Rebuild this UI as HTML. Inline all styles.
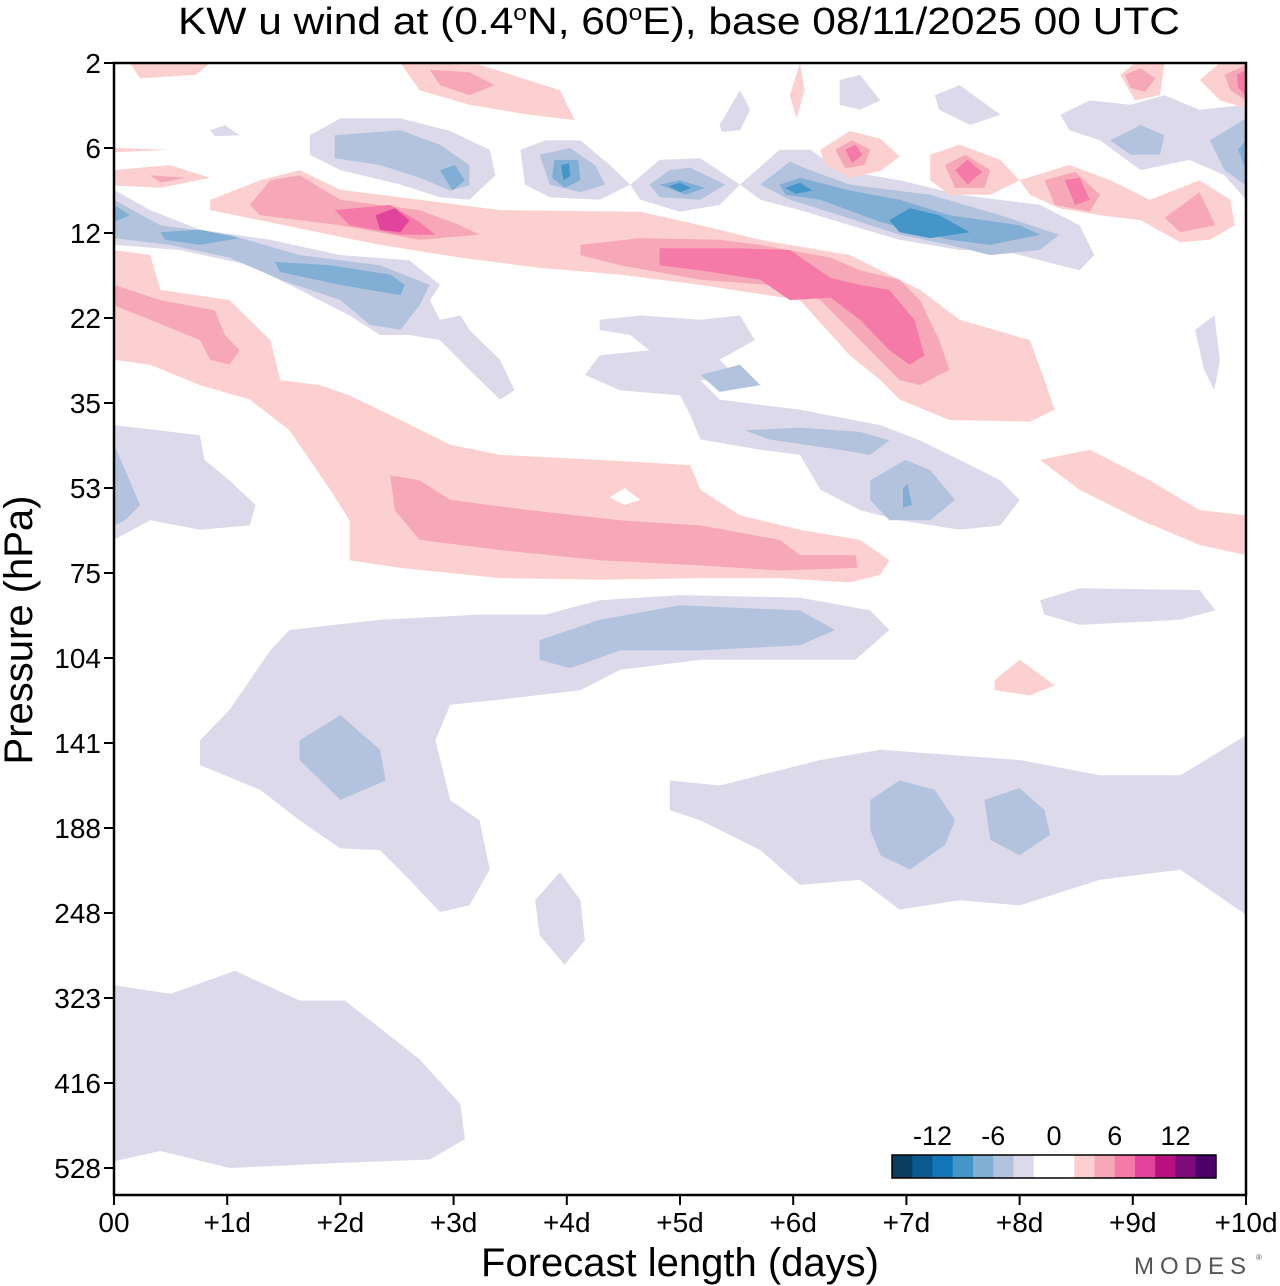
<!DOCTYPE html>
<html><head><meta charset="utf-8">
<style>
html,body{margin:0;padding:0;background:#fff;}
svg{display:block;font-family:"Liberation Sans",sans-serif;}
</style></head>
<body>
<svg id="chart" width="1280" height="1286" viewBox="0 0 1280 1286" xmlns="http://www.w3.org/2000/svg">
<text x="679" y="34" font-size="38" text-anchor="middle" textLength="1002" lengthAdjust="spacingAndGlyphs">KW u wind at (0.4<tspan font-size="22" dy="-14">o</tspan><tspan dy="14">N, 60</tspan><tspan font-size="22" dy="-14">o</tspan><tspan dy="14">E),  base 08/11/2025  00 UTC</tspan></text>
<g id="contours"></g>
<g id="axes"></g>
<text x="680" y="1276" font-size="40" text-anchor="middle">Forecast length (days)</text>
<text x="0" y="0" font-size="40" text-anchor="middle" transform="translate(32,630) rotate(-90)">Pressure (hPa)</text>
<text x="1134" y="1274" font-size="24" fill="#555" letter-spacing="6">MODES</text>
<text x="1256" y="1260" font-size="8" fill="#555">®</text>
<g id="cbar"></g>
</svg>
<script>
// ---- data ----
const dayTicks = [0,1,2,3,4,5,6,7,8,9,10];
const dayLabels = ["00","+1d","+2d","+3d","+4d","+5d","+6d","+7d","+8d","+9d","+10d"];
const pressureLabels = ["2","6","12","22","35","53","75","104","141","188","248","323","416","528"];
const cbarColors = ["#0b3d5e","#0a5a90","#1076b8","#4496c8","#80aed4","#b3c3de","#dcdaea","#ffffff","#ffffff","#fcd0d0","#f7a8b8","#f57aa8","#e0459b","#b8107f","#7e0b7b","#4a0068"];
const cbarLabels = ["-12","-6","0","6","12"];
const cbarLabelValues = [-12,-6,0,6,12];
// polygons [day, pressure-level index] grouped by band
const lavPolys = [
 [[0,10.85],[0.5,10.95],[1.07,10.68],[1.64,11.03],[2.04,11.03],[2.7,11.72],[3.06,12.25],[3.1,12.66],[2.79,12.9],[2,12.94],[1.02,13.0],[0.41,12.8],[0,12.92]],
 [[0.76,7.97],[1.02,7.61],[1.38,6.91],[1.55,6.67],[2.35,6.55],[3.23,6.49],[3.81,6.49],[4.29,6.32],[5.0,6.26],[6.06,6.29],[6.68,6.44],[6.85,6.67],[6.55,7.02],[5.88,7.02],[5.18,7.02],[4.47,7.14],[4.12,7.38],[3.41,7.49],[2.97,7.55],[2.84,7.97],[2.97,8.67],[3.23,8.91],[3.32,9.49],[3.14,9.91],[2.88,9.99],[2.61,9.61],[2.35,9.26],[2,9.24],[1.64,8.91],[1.29,8.55],[0.76,8.26]],
 [[3.72,9.85],[3.94,9.52],[4.12,9.85],[4.16,10.32],[3.98,10.61],[3.76,10.26]],
 [[4.91,8.44],[5.35,8.5],[6.24,8.2],[6.77,8.08],[7.38,8.14],[8.0,8.2],[8.71,8.38],[9.42,8.38],[10,7.91],[10,10.02],[9.42,9.49],[8.71,9.61],[8.0,9.91],[7.47,9.85],[6.94,9.96],[6.59,9.61],[6.06,9.67],[5.71,9.26],[5.18,8.91],[4.91,8.79]],
 [[8.18,6.32],[8.53,6.18],[9.59,6.2],[9.73,6.44],[9.42,6.55],[8.53,6.61],[8.22,6.49]],
 [[0,4.26],[0.76,4.38],[0.8,4.67],[1.02,4.91],[1.25,5.2],[1.2,5.44],[0.76,5.49],[0.32,5.38],[0,5.61]],
 [[0,1.49],[0.32,1.73],[0.76,1.96],[1.38,2.08],[2,2.26],[2.61,2.32],[2.88,2.61],[2.79,2.79],[2.88,3.02],[3.06,2.97],[3.14,3.14],[3.41,3.49],[3.54,3.85],[3.41,3.96],[3.14,3.61],[2.88,3.26],[2.61,3.2],[2.35,3.2],[2.08,2.97],[1.64,2.67],[1.2,2.38],[0.58,2.2],[0,2.14]],
 [[1.73,0.85],[2,0.65],[2.53,0.65],[2.97,0.8],[3.32,1.02],[3.37,1.32],[3.14,1.61],[2.88,1.58],[2.53,1.43],[2,1.26],[1.73,1.08]],
 [[3.59,1.02],[3.81,0.91],[4.12,0.91],[4.38,1.2],[4.56,1.43],[4.29,1.61],[3.85,1.58],[3.63,1.43]],
 [[4.56,1.43],[4.82,1.14],[5.18,1.12],[5.53,1.43],[5.35,1.67],[5.0,1.75],[4.65,1.61]],
 [[5.53,1.43],[5.88,1.02],[6.15,1.02],[6.41,1.26],[6.94,1.38],[7.47,1.55],[8.18,1.67],[8.53,1.91],[8.66,2.26],[8.53,2.44],[8.18,2.32],[7.83,2.2],[7.47,2.2],[6.94,2.08],[6.5,1.91],[6.06,1.73],[5.71,1.61]],
 [[8.36,0.61],[8.62,0.44],[8.98,0.49],[9.28,0.38],[9.59,0.55],[10,0.49],[10,1.61],[9.81,1.32],[9.5,1.14],[9.07,1.26],[8.71,0.91],[8.44,0.79]],
 [[6.41,0.2],[6.59,0.14],[6.77,0.44],[6.59,0.55],[6.41,0.49]],
 [[7.25,0.38],[7.47,0.26],[7.83,0.61],[7.56,0.73],[7.29,0.55]],
 [[5.35,0.73],[5.53,0.32],[5.62,0.55],[5.53,0.79],[5.37,0.81]],
 [[4.29,3.02],[4.65,2.97],[5.18,3.02],[5.53,2.97],[5.66,3.26],[5.35,3.49],[5.53,3.73],[5.18,3.73],[5.35,3.96],[6.06,4.08],[6.77,4.26],[7.12,4.44],[7.47,4.67],[7.83,4.91],[8.0,5.14],[7.83,5.44],[7.47,5.49],[6.94,5.38],[6.59,5.26],[6.24,5.02],[6.06,4.61],[5.71,4.55],[5.18,4.43],[5.09,4.14],[5.0,3.91],[4.47,3.85],[4.16,3.67],[4.29,3.44],[4.73,3.38],[4.56,3.2],[4.29,3.14]],
 [[9.55,3.14],[9.72,2.97],[9.77,3.49],[9.72,3.85],[9.63,3.61]],
 [[0.85,0.79],[0.98,0.73],[1.11,0.85],[0.89,0.86]]
];
const pink2Polys = [
 [[7.78,7.26],[8.0,7.02],[8.31,7.32],[8.09,7.44],[7.78,7.38]],
 [[8.18,4.67],[8.62,4.55],[9.15,4.91],[9.59,5.26],[10,5.32],[10,5.79],[9.59,5.67],[9.07,5.38],[8.53,5.02]],
 [[0,2.2],[0.32,2.26],[0.41,2.67],[1.02,2.79],[1.38,3.26],[1.47,3.73],[1.82,3.79],[2.08,3.91],[2.53,4.2],[2.97,4.49],[3.41,4.61],[4.29,4.67],[5.09,4.73],[5.18,5.02],[5.53,5.32],[6.06,5.49],[6.59,5.61],[6.85,5.85],[6.77,6.02],[6.5,6.11],[5.88,6.06],[5.18,6.06],[4.29,6.08],[3.41,6.06],[2.53,5.94],[2.08,5.85],[2.08,5.38],[1.91,5.02],[1.55,4.32],[1.2,3.96],[0.76,3.79],[0.32,3.55],[0,3.49]],
 [[0.85,1.61],[1.29,1.38],[1.64,1.26],[2,1.49],[2.7,1.61],[3.41,1.73],[4.65,1.75],[5.18,1.91],[5.71,2.08],[6.5,2.26],[7.12,2.67],[7.47,3.02],[8.09,3.26],[8.22,3.73],[8.31,4.08],[8.09,4.22],[7.38,4.2],[6.94,3.96],[6.77,3.73],[6.5,3.44],[6.06,2.79],[5.18,2.61],[4.47,2.49],[3.76,2.41],[3.06,2.29],[2.35,2.14],[1.91,2.02],[1.29,1.85],[0.85,1.73]],
 [[6.24,1.02],[6.5,0.8],[6.77,0.89],[6.94,1.1],[6.77,1.27],[6.5,1.35],[6.28,1.2]],
 [[7.21,1.08],[7.47,0.96],[7.83,1.14],[8.0,1.38],[7.74,1.55],[7.38,1.55],[7.21,1.38]],
 [[8.0,1.38],[8.44,1.2],[8.8,1.38],[9.15,1.61],[9.59,1.38],[9.86,1.61],[9.9,1.91],[9.68,2.08],[9.42,2.11],[9.07,1.85],[8.71,1.79],[8.35,1.71],[8.09,1.55]],
 [[8.89,0.14],[9.02,0],[9.28,0],[9.24,0.38],[9.02,0.44]],
 [[9.59,0.2],[9.77,0],[10,0],[10,0.53],[9.77,0.44]],
 [[0.14,0],[0.85,0],[0.72,0.14],[0.23,0.18]],
 [[2.53,0],[3.23,0.02],[3.94,0.32],[4.07,0.67],[3.67,0.61],[3.14,0.49],[2.7,0.32]],
 [[0,1.26],[0.49,1.2],[0.85,1.35],[0.41,1.47],[0,1.44]],
 [[5.97,0.38],[6.06,0],[6.1,0.32],[6.03,0.65]],
 [[0,1.0],[0.49,1.02],[0,1.05]]
];
const holePolys = [
 [[4.38,5.11],[4.51,5.0],[4.65,5.14],[4.51,5.2]]
];
const blue4Polys = [
 [[1.64,7.97],[2,7.67],[2.35,8.08],[2.4,8.44],[2,8.67],[1.64,8.2]],
 [[3.76,6.79],[4.29,6.55],[5.0,6.38],[6.06,6.44],[6.37,6.67],[6.06,6.85],[5.18,6.91],[4.47,6.91],[4.03,7.12],[3.76,7.02]],
 [[6.68,8.67],[6.94,8.44],[7.25,8.55],[7.43,8.91],[7.34,9.2],[7.03,9.49],[6.77,9.32],[6.68,9.02]],
 [[7.69,8.67],[8.0,8.53],[8.22,8.79],[8.27,9.08],[8.0,9.32],[7.74,9.14]],
 [[0,4.49],[0.1,4.79],[0.23,5.2],[0.1,5.38],[0,5.44]],
 [[0,1.61],[0.41,1.91],[1.02,2.02],[1.64,2.26],[2.35,2.38],[2.79,2.61],[2.7,2.85],[2.53,3.14],[2.26,3.08],[2,2.79],[1.47,2.55],[1.02,2.29],[0.49,2.14],[0,2.06]],
 [[1.95,0.85],[2.53,0.79],[2.88,0.96],[3.14,1.2],[3.14,1.44],[2.97,1.5],[2.7,1.35],[2.35,1.2],[1.95,1.12]],
 [[3.76,1.08],[4.03,1.0],[4.25,1.2],[4.34,1.43],[4.12,1.52],[3.85,1.43]],
 [[4.73,1.43],[4.91,1.26],[5.09,1.23],[5.4,1.43],[5.18,1.61],[4.82,1.58]],
 [[5.71,1.43],[5.97,1.16],[6.15,1.26],[6.5,1.43],[7.21,1.55],[7.83,1.79],[8.35,2.02],[8.18,2.2],[7.74,2.26],[7.38,2.14],[6.94,2.02],[6.41,1.79],[5.97,1.61]],
 [[8.8,0.91],[9.07,0.73],[9.28,0.85],[9.24,1.08],[8.98,1.08]],
 [[9.68,0.91],[10,0.65],[10,1.44],[9.81,1.26]],
 [[5.18,3.67],[5.53,3.55],[5.71,3.79],[5.35,3.87]],
 [[5.57,4.32],[6.06,4.29],[6.59,4.34],[6.85,4.44],[6.68,4.61],[6.41,4.55],[5.79,4.43]],
 [[6.68,4.91],[6.99,4.67],[7.21,4.79],[7.43,5.14],[7.21,5.38],[6.85,5.38],[6.68,5.14]]
];
const blue6Polys = [
 [[0,1.67],[0.14,1.79],[0,1.87]],
 [[0.41,1.99],[0.76,1.96],[1.11,2.06],[0.76,2.14],[0.45,2.08]],
 [[1.42,2.34],[1.91,2.38],[2.44,2.49],[2.57,2.61],[2.53,2.73],[2,2.61],[1.47,2.46]],
 [[2.88,1.26],[3.01,1.2],[3.1,1.38],[2.99,1.5]],
 [[3.89,1.14],[4.1,1.14],[4.12,1.38],[3.98,1.47],[3.87,1.35]],
 [[4.82,1.43],[5.0,1.38],[5.22,1.47],[5.05,1.55]],
 [[5.88,1.43],[6.06,1.35],[6.5,1.5],[6.94,1.61],[7.38,1.79],[8.0,1.91],[8.18,2.02],[7.74,2.14],[7.38,2.08],[6.77,1.87],[6.24,1.61],[5.93,1.55]],
 [[9.93,1.02],[10,0.91],[10,1.26]],
 [[6.97,5.0],[7.01,4.95],[7.05,5.2],[6.97,5.23]]
];
const blue8Polys = [
 [[6.85,1.85],[7.03,1.71],[7.29,1.79],[7.56,1.99],[7.21,2.06],[6.94,1.99]],
 [[5.93,1.47],[6.06,1.41],[6.17,1.5],[6.02,1.54]],
 [[4.9,1.45],[5.0,1.41],[5.1,1.47],[5.0,1.52]],
 [[3.95,1.2],[4.02,1.18],[4.03,1.33],[3.97,1.38]]
];
const pink4Polys = [
 [[2.44,4.85],[2.7,4.91],[2.97,5.14],[3.67,5.26],[4.47,5.38],[5.18,5.44],[5.88,5.61],[6.06,5.79],[6.55,5.79],[6.57,5.94],[5.88,5.97],[5.18,5.91],[4.29,5.85],[3.41,5.73],[2.7,5.61],[2.48,5.26]],
 [[0,2.61],[0.41,2.79],[0.89,2.91],[0.98,3.2],[1.11,3.38],[1.02,3.55],[0.85,3.49],[0.76,3.26],[0.32,3.02],[0,2.85]],
 [[1.2,1.67],[1.38,1.38],[1.64,1.32],[2,1.61],[2.7,1.73],[3.06,1.91],[3.23,2.02],[2.7,2.08],[2,1.91],[1.29,1.79]],
 [[4.12,2.14],[4.65,2.06],[5.35,2.08],[5.71,2.14],[6.33,2.29],[6.59,2.44],[6.94,2.55],[7.12,2.79],[7.29,3.26],[7.38,3.61],[7.12,3.79],[6.94,3.73],[6.59,3.26],[6.24,2.79],[5.79,2.61],[5.18,2.55],[4.47,2.38],[4.12,2.26]],
 [[6.37,1.02],[6.52,0.91],[6.68,1.02],[6.63,1.2],[6.46,1.24]],
 [[7.34,1.2],[7.52,1.08],[7.74,1.26],[7.69,1.47],[7.43,1.47]],
 [[8.22,1.38],[8.49,1.28],[8.71,1.55],[8.62,1.75],[8.31,1.67]],
 [[9.28,1.82],[9.59,1.52],[9.73,1.91],[9.42,1.99]],
 [[8.93,0.14],[9.07,0.06],[9.2,0.18],[9.11,0.34],[8.98,0.29]],
 [[9.81,0.14],[10,0.02],[10,0.44],[9.86,0.32]],
 [[2.79,0.08],[3.14,0.11],[3.36,0.26],[3.14,0.38],[2.88,0.26]],
 [[0.32,1.32],[0.63,1.35],[0.41,1.41]]
];
const pink6Polys = [
 [[1.95,1.73],[2.44,1.67],[2.7,1.87],[2.84,2.02],[2.53,2.02],[2.08,1.91]],
 [[4.82,2.18],[5.53,2.18],[5.97,2.2],[6.33,2.53],[6.59,2.61],[6.85,2.67],[7.07,3.02],[7.16,3.44],[7.03,3.55],[6.85,3.38],[6.59,3.02],[6.33,2.76],[5.97,2.79],[5.71,2.55],[5.18,2.44],[4.82,2.38]],
 [[6.46,1.02],[6.55,0.96],[6.61,1.08],[6.52,1.18]],
 [[7.43,1.26],[7.54,1.14],[7.67,1.28],[7.54,1.43]],
 [[8.4,1.38],[8.53,1.35],[8.62,1.61],[8.49,1.67]],
 [[9.92,0.14],[10,0.08],[10,0.38],[9.93,0.29]]
];
const pink8Polys = [
 [[2.31,1.79],[2.48,1.71],[2.61,1.85],[2.53,1.99],[2.35,1.96]]
];
const bandValues = [-2, 2, 0, -4, -6, -8, 4, 6, 8];
const bandPolys = [lavPolys, pink2Polys, holePolys, blue4Polys, blue6Polys, blue8Polys, pink4Polys, pink6Polys, pink8Polys];

// ---- axes ----
const X0=114, X1=1246, Y0=63, LSTEP=85, YB=1195;
function xScale(d){ return X0 + (X1-X0)*d/10; }
function yScale(L){ return Y0 + LSTEP*L; }
function colorFor(v){
  const map = {"-8":"#4496c8","-6":"#80aed4","-4":"#b3c3de","-2":"#dcdaea","0":"#ffffff","2":"#fcd0d0","4":"#f7a8b8","6":"#f57aa8","8":"#e0459b"};
  return map[String(v)];
}
const NS="http://www.w3.org/2000/svg";
const cg=document.getElementById('contours');
const clip=document.createElementNS(NS,'clipPath'); clip.setAttribute('id','pc');
const cr=document.createElementNS(NS,'rect'); cr.setAttribute('x',X0);cr.setAttribute('y',Y0);cr.setAttribute('width',X1-X0);cr.setAttribute('height',YB-Y0);
clip.appendChild(cr); document.getElementById('chart').appendChild(clip);
cg.setAttribute('clip-path','url(#pc)');
bandPolys.forEach((list,b)=>{
  list.forEach(p=>{
    const el=document.createElementNS(NS,'polygon');
    el.setAttribute('points',p.map(q=>xScale(q[0]).toFixed(1)+','+yScale(q[1]).toFixed(1)).join(' '));
    el.setAttribute('fill',colorFor(bandValues[b]));
    
    
    cg.appendChild(el);
  });
});
const ax=document.getElementById('axes');
const frame=document.createElementNS(NS,'rect');
frame.setAttribute('x',X0);frame.setAttribute('y',Y0);frame.setAttribute('width',X1-X0);frame.setAttribute('height',YB-Y0);
frame.setAttribute('fill','none');frame.setAttribute('stroke','#000');frame.setAttribute('stroke-width','2.5');


ax.appendChild(frame);
pressureLabels.forEach((lab,i)=>{
  const y=yScale(i);
  const t=document.createElementNS(NS,'line');
  t.setAttribute('x1',X0-10);t.setAttribute('x2',X0);t.setAttribute('y1',y);t.setAttribute('y2',y);t.setAttribute('stroke','#000');t.setAttribute('stroke-width','2');
  
  
  ax.appendChild(t);
  const tx=document.createElementNS(NS,'text');
  tx.setAttribute('x',X0-13);tx.setAttribute('y',y+10);tx.setAttribute('font-size','28');tx.setAttribute('text-anchor','end');
  tx.textContent=lab;
  
  
  ax.appendChild(tx);
});
dayTicks.forEach((d,i)=>{
  const x=xScale(d);
  const t=document.createElementNS(NS,'line');
  t.setAttribute('x1',x);t.setAttribute('x2',x);t.setAttribute('y1',YB);t.setAttribute('y2',YB+10);t.setAttribute('stroke','#000');t.setAttribute('stroke-width','2');
  
  
  ax.appendChild(t);
  const tx=document.createElementNS(NS,'text');
  tx.setAttribute('x',x);tx.setAttribute('y',1232);tx.setAttribute('font-size','28');tx.setAttribute('text-anchor','middle');
  tx.textContent=dayLabels[i];
  
  
  ax.appendChild(tx);
});
// colorbar
const cb=document.getElementById('cbar');
const CBX=892, CBW=324/cbarColors.length, CBY=1155, CBH=23;
cbarColors.forEach((c,i)=>{
  const r=document.createElementNS(NS,'rect');
  r.setAttribute('x',CBX+i*CBW);r.setAttribute('y',CBY);r.setAttribute('width',CBW+0.5);r.setAttribute('height',CBH);r.setAttribute('fill',c);
  
  
  cb.appendChild(r);
});
const cbf=document.createElementNS(NS,'rect');
cbf.setAttribute('x',CBX);cbf.setAttribute('y',CBY);cbf.setAttribute('width',324);cbf.setAttribute('height',CBH);cbf.setAttribute('fill','none');cbf.setAttribute('stroke','#000');cbf.setAttribute('stroke-width','1.5');


cb.appendChild(cbf);
cbarLabels.forEach((lab,i)=>{
  const idx=8+cbarLabelValues[i]/2;
  const tx=document.createElementNS(NS,'text');
  tx.setAttribute('x',CBX+idx*CBW);tx.setAttribute('y',1145);tx.setAttribute('font-size','27');tx.setAttribute('text-anchor','middle');
  tx.textContent=lab;
  
  
  cb.appendChild(tx);
});
</script>
</body></html>
